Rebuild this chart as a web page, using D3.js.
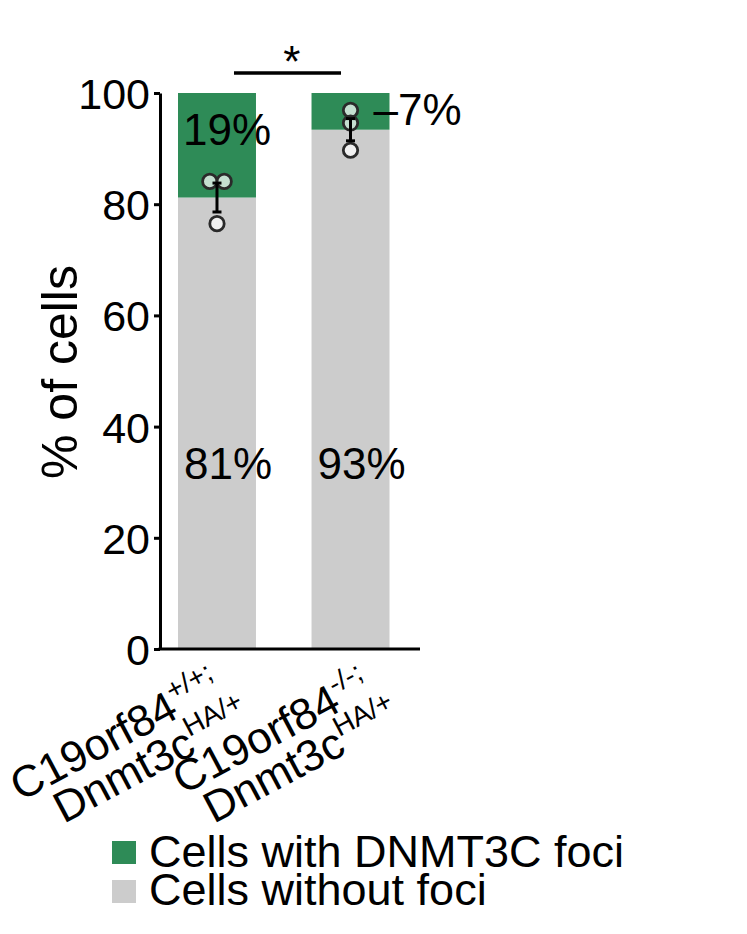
<!DOCTYPE html>
<html>
<head>
<meta charset="utf-8">
<script src="https://cdn.jsdelivr.net/npm/d3@7/dist/d3.min.js"></script>
<style>
  html, body { margin: 0; padding: 0; background: #fff; }
  svg { display: block; }
  text { font-family: "Liberation Sans", Arial, Helvetica, sans-serif; fill: #000; }
</style>
</head>
<body>
<svg id="chart" width="747" height="934"></svg>
<script>
// ---- data ----
const categories = ["WT", "KO"];
const labelLine1 = ["C19orf84", "C19orf84"];
const labelSup1 = ["+/+;", "-/-;"];
const labelLine2 = ["Dnmt3c", "Dnmt3c"];
const labelSup2 = ["HA/+", "HA/+"];
const withoutFoci = [81.2, 93.4];
const withFoci = [18.8, 6.6];
const withoutLabels = ["81%", "93%"];
const withLabels = ["19%", "–7%"];
const replicatePoints = [[84.1, 84.1, 76.5], [96.9, 94.6, 89.7]];
const sem = [2.6, 2.0];
const yTicks = [0, 20, 40, 60, 80, 100];
const seriesKeys = ["without", "with"];
const seriesNames = ["Cells with DNMT3C foci", "Cells without foci"];
const colors = { with: "#2e8b57", without: "#cccccc" };
const significance = "*";

// ---- layout ----
const svg = d3.select("#chart");
const axisX = 160, axisRight = 420;
const y = d3.scaleLinear().domain([0, 100]).range([649, 93]);
const x = d3.scaleBand().domain(categories).range([178, 389.5]).paddingInner(0.416).paddingOuter(0);
const labelX = d3.scalePoint().domain(categories).range([223, 373]);
const bw = x.bandwidth();

const table = categories.map((c, i) => ({ cat: c, without: withoutFoci[i], with: withFoci[i] }));
const stacked = d3.stack().keys(seriesKeys)(table);

// bars
svg.append("g").selectAll("g").data(stacked).join("g")
  .attr("fill", d => colors[d.key])
  .selectAll("rect").data(d => d).join("rect")
  .attr("x", d => x(d.data.cat))
  .attr("width", bw)
  .attr("y", d => y(d[1]))
  .attr("height", d => y(d[0]) - y(d[1]));

// points (dodge identical values)
const r = 7.2;
const pts = [];
replicatePoints.forEach((vals, i) => {
  const groups = d3.group(vals.map((v, k) => ({ v, k })), d => d.v);
  groups.forEach(arr => {
    arr.forEach((p, j) => {
      const off = (j - (arr.length - 1) / 2) * r * 2;
      pts.push({ cat: categories[i], v: p.v, off });
    });
  });
});
svg.append("g").selectAll("circle").data(pts).join("circle")
  .attr("cx", d => x(d.cat) + bw / 2 + d.off)
  .attr("cy", d => y(d.v))
  .attr("r", r)
  .attr("fill", "#fff").attr("fill-opacity", 0.72)
  .attr("stroke", "#2a2a2a").attr("stroke-width", 2.8);

// error bars
const eb = svg.append("g").attr("stroke", "#000").attr("stroke-width", 3);
categories.forEach((c, i) => {
  const cx = x(c) + bw / 2;
  const lo = y(withoutFoci[i] - sem[i]), hi = y(withoutFoci[i] + sem[i]);
  eb.append("line").attr("x1", cx).attr("x2", cx).attr("y1", lo).attr("y2", hi);
  eb.append("line").attr("x1", cx - 4.5).attr("x2", cx + 4.5).attr("y1", lo).attr("y2", lo);
  eb.append("line").attr("x1", cx - 4.5).attr("x2", cx + 4.5).attr("y1", hi).attr("y2", hi);
});

// percentage labels
svg.append("g").selectAll("text").data(categories).join("text")
  .attr("x", c => x(c) + bw / 2 + 11)
  .attr("y", y(30.5))
  .attr("text-anchor", "middle")
  .attr("font-size", 44)
  .text((c, i) => withoutLabels[i]);
svg.append("text")
  .attr("x", x(categories[0]) + bw / 2 + 10)
  .attr("y", y(90.6))
  .attr("text-anchor", "middle").attr("font-size", 44)
  .text(withLabels[0]);
svg.append("text")
  .attr("x", x(categories[1]) + bw - 16)
  .attr("y", y(94.3))
  .attr("text-anchor", "start").attr("font-size", 44)
  .text(withLabels[1]);

// y axis
const yAxis = svg.append("g").attr("transform", `translate(${axisX},0)`)
  .call(d3.axisLeft(y).tickValues(yTicks).tickSize(6).tickSizeOuter(0).tickPadding(4).tickFormat(d3.format("d")));
yAxis.select(".domain").attr("stroke-width", 3);
yAxis.selectAll(".tick line").attr("stroke-width", 3);
yAxis.selectAll(".tick text").attr("font-size", 43).attr("font-family", '"Liberation Sans", Arial, sans-serif').attr("dy", "0.36em");

// x axis line
svg.append("line").attr("x1", axisX - 1.5).attr("x2", axisRight).attr("y1", y(0)).attr("y2", y(0))
  .attr("stroke", "#000").attr("stroke-width", 3);

// y title
svg.append("text")
  .attr("transform", `translate(77,${372}) rotate(-90)`)
  .attr("text-anchor", "middle").attr("font-size", 50)
  .text("% of cells");

// x labels
categories.forEach((c, i) => {
  const g = svg.append("g").attr("transform", `translate(${labelX(c)},694) rotate(-28)`);
  const t1 = g.append("text").attr("text-anchor", "end").attr("font-size", 44);
  t1.append("tspan").text(labelLine1[i]);
  t1.append("tspan").attr("font-size", 28).attr("dy", -18).text(labelSup1[i]);
  const t2 = g.append("text").attr("text-anchor", "end").attr("font-size", 44)
    .attr("x", 13).attr("y", 40);
  t2.append("tspan").text(labelLine2[i]);
  t2.append("tspan").attr("font-size", 28).attr("dy", -18).text(labelSup2[i]);
});

// significance
svg.append("line").attr("x1", x(categories[0]) + bw / 2 + 17).attr("x2", x(categories[1]) + bw / 2 - 9.5)
  .attr("y1", 73).attr("y2", 73).attr("stroke", "#000").attr("stroke-width", 3.5);
svg.append("text").attr("x", (x(categories[0]) + x(categories[1])) / 2 + bw / 2 + 8).attr("y", 77)
  .attr("text-anchor", "middle").attr("font-size", 44).text(significance);

// legend
const legendKeys = ["with", "without"];
const lg = svg.append("g");
legendKeys.forEach((k, i) => {
  lg.append("rect").attr("x", 112).attr("y", 841 + i * 39).attr("width", 24).attr("height", 23).attr("fill", colors[k]);
  lg.append("text").attr("x", 149).attr("y", 867 + i * 38).attr("font-size", 45).text(seriesNames[i]);
});
</script>
</body>
</html>
